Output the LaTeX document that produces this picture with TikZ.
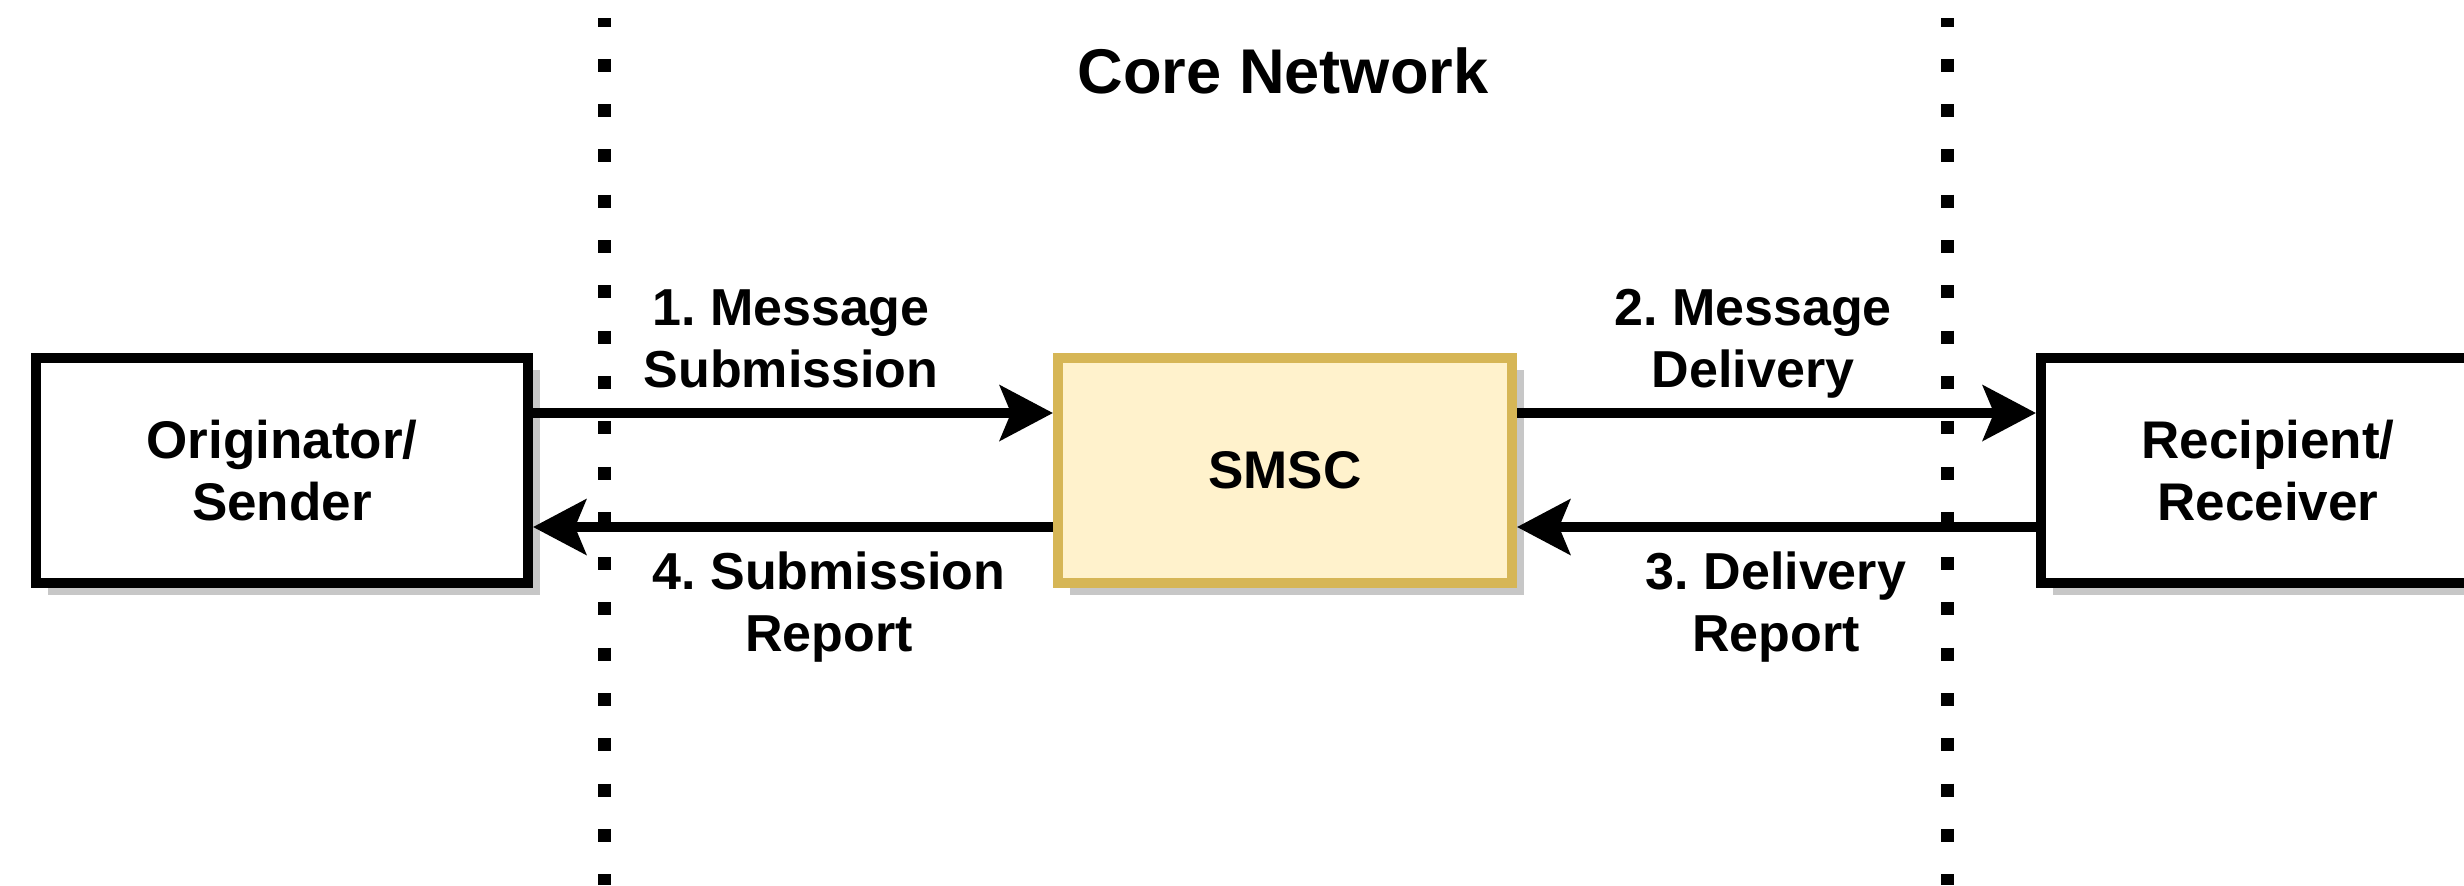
\documentclass[tikz,border=0pt]{standalone}
\usepackage{fontspec}
\setmainfont{Liberation Sans}
\frenchspacing
\usetikzlibrary{arrows.meta,shadows}
\definecolor{smscfill}{HTML}{FFF2CC}
\definecolor{smscdraw}{HTML}{D6B656}
\tikzset{
  lbl/.style={font=\fontsize{26pt}{31pt}\selectfont\bfseries\frenchspacing, align=center, inner sep=0pt, anchor=base},
  boxnode/.style={draw=black, fill=white, line width=5pt, minimum width=246pt, minimum height=112.5pt,
    inner sep=0pt, align=center, font=\fontsize{26.5pt}{31pt}\selectfont\bfseries,
    drop shadow={shadow xshift=6pt, shadow yshift=-6pt, fill=black!22, opacity=1}},
  smscnode/.style={boxnode, draw=smscdraw, fill=smscfill, minimum width=227pt},
  arr/.style={line width=5pt, -{Stealth[length=26.5pt,width=27.5pt,inset=5.5pt]}},
  dotline/.style={line width=6.5pt, dash pattern=on 6.5pt off 16.15pt, dash phase=2.25pt}
}
\begin{document}
\begin{tikzpicture}[x=0.5pt,y=-0.5pt]
\clip (0,0) rectangle (2464,885);
\fill[white] (0,0) rectangle (2464,885);
% zone separators
\coordinate (l1top) at (604,18);
\coordinate (l1bot) at (604,885);
\coordinate (l2top) at (1947,18);
\coordinate (l2bot) at (1947,885);
\draw[dotline] (l1top) -- (l1bot);
\draw[dotline] (l2top) -- (l2bot);
% title
\node[lbl, font=\fontsize{31.6pt}{36pt}\selectfont\bfseries] (title) at (1283,93) {Core Network};
% boxes
\node[boxnode] (orig) at (282,470.5) {Originator/\\Sender};
\node[smscnode] (smsc) at (1285,470.5) {SMSC};
\node[boxnode, minimum width=227pt] (recip) at (2268,470.5) {Recipient/\\Receiver};
% arrow levels
\coordinate (ytop) at (0,413);
\coordinate (ybot) at (0,527);
\draw[arr] (orig.east |- ytop) -- (smsc.west |- ytop);
\draw[arr] (smsc.east |- ytop) -- (recip.west |- ytop);
\draw[arr] (recip.west |- ybot) -- (smsc.east |- ybot);
\draw[arr] (smsc.west |- ybot) -- (orig.east |- ybot);
% labels (anchor = baseline of the last line)
\node[lbl] (l1) at (791,387) {1. Message\\Submission};
\node[lbl] (l2) at (1753,387) {2. Message\\Delivery};
\node[lbl] (l3) at (1776,651) {3. Delivery\\Report};
\node[lbl] (l4) at (829,651) {4. Submission\\Report};
\end{tikzpicture}
\end{document}
